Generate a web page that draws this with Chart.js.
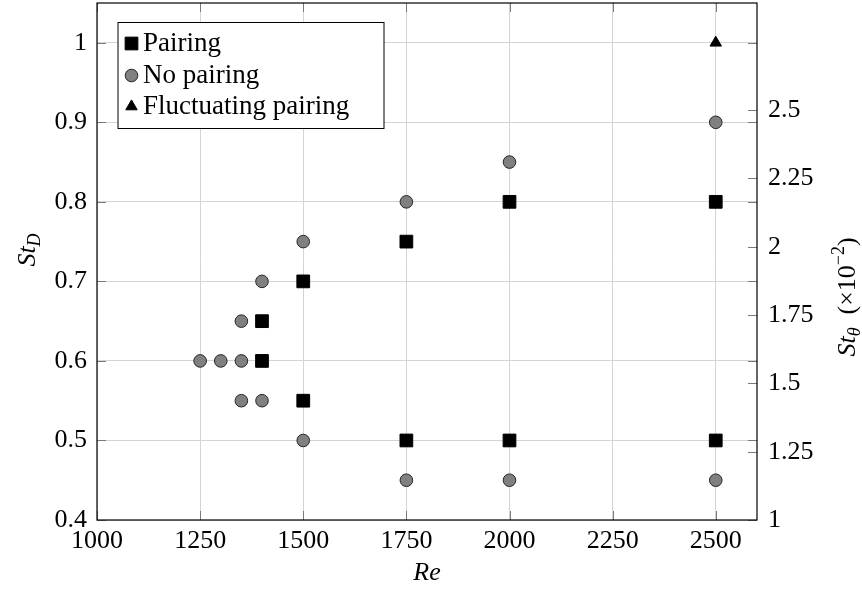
<!DOCTYPE html>
<html>
<head>
<meta charset="utf-8">
<script src="https://cdn.jsdelivr.net/npm/chart.js@4.4.0/dist/chart.umd.min.js"></script>
<style>
  html, body { margin: 0; padding: 0; background: #fff; }
  #wrap { width: 862px; height: 592px; }
  .warm { position: absolute; left: -9999px; top: 0; font-family: "Liberation Serif", serif; font-size: 26px; }
</style>
</head>
<body>
<span class="warm">Pairing 0123456789</span><span class="warm"><i>Re St θ</i></span>
<div id="wrap"><canvas id="chart"></canvas></div>
<script>
// St_D against Re, three regimes
const pairingRe = [1400, 1400, 1500, 1500, 1750, 1750, 2000, 2000, 2500, 2500];
const pairingSt = [0.65, 0.6, 0.7, 0.55, 0.75, 0.5, 0.8, 0.5, 0.8, 0.5];

const noPairingRe = [1250, 1300, 1350, 1350, 1350, 1400, 1400, 1500, 1500, 1750, 1750, 2000, 2000, 2500, 2500];
const noPairingSt = [0.6, 0.6, 0.6, 0.65, 0.55, 0.7, 0.55, 0.75, 0.5, 0.8, 0.45, 0.85, 0.45, 0.9, 0.45];

const fluctRe = [2500];
const fluctSt = [1.0];

const reTicks = [1000, 1250, 1500, 1750, 2000, 2250, 2500];
const stDTicks = [0.4, 0.5, 0.6, 0.7, 0.8, 0.9, 1];
const stThetaTicks = [1, 1.25, 1.5, 1.75, 2, 2.25, 2.5];

const FONT = '"Liberation Serif", "Times New Roman", Tinos, serif';
const SIZE = 26;
const SMALL = 18;

// force le chargement de la police avant le premier dessin
(function warmFont() {
    const c = document.createElement('canvas').getContext('2d');
    ['', 'italic '].forEach(st => {
        c.font = `${st}${SIZE}px ${FONT}`;
        c.measureText('Fluctuating pairing 0123456789');
    });
})();

function toPoints(xs, ys) {
    return xs.map((x, i) => ({ x: x, y: ys[i] }));
}

// texte avec indices / exposants
function drawRich(ctx, parts, cx, cy, rot) {
    ctx.save();
    ctx.translate(cx, cy);
    ctx.rotate(rot);
    let total = 0;
    parts.forEach(p => {
        ctx.font = p.font;
        p.w = ctx.measureText(p.t).width;
        total += p.w;
    });
    let x = -total / 2;
    ctx.textBaseline = 'alphabetic';
    ctx.fillStyle = '#000';
    parts.forEach(p => {
        ctx.font = p.font;
        ctx.fillText(p.t, x, p.dy || 0);
        x += p.w;
    });
    ctx.restore();
}

function noPad(s) {
    s.paddingTop = 0;
    s.paddingBottom = 0;
    s.paddingLeft = 0;
    s.paddingRight = 0;
}

const frameAndTicks = {
    id: 'frameAndTicks',
    beforeDatasetsDraw(chart) {
        const { ctx, chartArea: a, scales } = chart;
        const len = 9;
        ctx.save();
        ctx.strokeStyle = '#7a7a7a';
        ctx.lineWidth = 1;
        ctx.beginPath();
        reTicks.forEach(v => {
            const px = Math.round(scales.x.getPixelForValue(v)) + 0.5;
            ctx.moveTo(px, a.bottom); ctx.lineTo(px, a.bottom - len);
            ctx.moveTo(px, a.top); ctx.lineTo(px, a.top + len);
        });
        stDTicks.forEach(v => {
            const py = Math.round(scales.y.getPixelForValue(v)) + 0.5;
            ctx.moveTo(a.left, py); ctx.lineTo(a.left + len, py);
            ctx.moveTo(a.right, py); ctx.lineTo(a.right - len, py);
        });
        stThetaTicks.forEach(v => {
            const py = Math.round(scales.y2.getPixelForValue(v)) + 0.5;
            ctx.moveTo(a.right, py); ctx.lineTo(a.right - len, py);
        });
        ctx.stroke();

        ctx.strokeStyle = '#000';
        ctx.lineWidth = 1.2;
        ctx.strokeRect(a.left, a.top, a.right - a.left, a.bottom - a.top);
        ctx.restore();
    },
    afterDraw(chart) {
        const ctx = chart.ctx;
        const it = `italic ${SIZE}px ${FONT}`;
        const itSmall = `italic ${SMALL}px ${FONT}`;
        const rm = `${SIZE}px ${FONT}`;
        const rmSmall = `${SMALL}px ${FONT}`;

        drawRich(ctx, [{ t: 'Re', font: it }], 427, 580, 0);
        drawRich(ctx, [{ t: 'St', font: it }, { t: 'D', font: itSmall, dy: 5 }], 35, 250, -Math.PI / 2);
        drawRich(ctx, [
            { t: 'St', font: it },
            { t: 'θ', font: itSmall, dy: 5 },
            { t: '  (×10', font: rm },
            { t: '−2', font: rmSmall, dy: -11 },
            { t: ')', font: rm }
        ], 855, 297, -Math.PI / 2);

        // légende
        const box = { x: 117.5, y: 22, w: 266, h: 106 };
        ctx.save();
        ctx.fillStyle = '#fff';
        ctx.fillRect(box.x, box.y, box.w, box.h);
        ctx.strokeStyle = '#000';
        ctx.lineWidth = 1;
        ctx.strokeRect(box.x + 0.5, box.y + 0.5, box.w, box.h);
        const rows = [43.5, 75.5, 106.5];
        chart.data.datasets.forEach((ds, i) => {
            const y = rows[i];
            const style = {
                pointStyle: ds.pointStyle,
                radius: ds.pointRadius,
                borderWidth: ds.borderWidth,
                rotation: 0
            };
            ctx.fillStyle = ds.backgroundColor;
            ctx.strokeStyle = ds.borderColor;
            ctx.lineWidth = ds.borderWidth;
            Chart.helpers.drawPoint(ctx, style, 131.5, y);
            ctx.fillStyle = '#000';
            ctx.font = `27px ${FONT}`;
            ctx.textBaseline = 'alphabetic';
            ctx.fillText(ds.label, 143, y + 7);
        });
        ctx.restore();
    }
};

const ctx = document.getElementById('chart');

const chart = new Chart(ctx, {
    type: 'scatter',
    data: {
        datasets: [
            {
                label: 'Pairing',
                data: toPoints(pairingRe, pairingSt),
                pointStyle: 'rect',
                pointRadius: 9,
                pointHoverRadius: 9,
                backgroundColor: '#000000',
                borderColor: '#000000',
                borderWidth: 1
            },
            {
                label: 'No pairing',
                data: toPoints(noPairingRe, noPairingSt),
                pointStyle: 'circle',
                pointRadius: 6.3,
                pointHoverRadius: 6.3,
                backgroundColor: '#808080',
                borderColor: '#262626',
                borderWidth: 1
            },
            {
                label: 'Fluctuating pairing',
                data: toPoints(fluctRe, fluctSt),
                pointStyle: 'triangle',
                pointRadius: 6.6,
                pointHoverRadius: 6.6,
                backgroundColor: '#000000',
                borderColor: '#000000',
                borderWidth: 1
            }
        ]
    },
    options: {
        responsive: true,
        maintainAspectRatio: false,
        animation: false,
        layout: { autoPadding: false, padding: { top: 3, left: 0, right: 0, bottom: 0 } },
        plugins: {
            legend: { display: false },
            tooltip: { enabled: false }
        },
        scales: {
            x: {
                type: 'linear',
                position: 'bottom',
                min: 1000,
                max: 2600,
                afterBuildTicks: s => { s.ticks = reTicks.map(v => ({ value: v })); },
                afterFit: s => { s.height = 72; noPad(s); },
                border: { display: false },
                grid: { color: '#d4d4d4', lineWidth: 1, drawTicks: false },
                ticks: {
                    color: '#000',
                    padding: 6,
                    maxRotation: 0,
                    font: { family: FONT, size: SIZE },
                    callback: v => String(v)
                }
            },
            y: {
                type: 'linear',
                position: 'left',
                min: 0.4,
                max: 1.05,
                afterBuildTicks: s => { s.ticks = stDTicks.map(v => ({ value: v })); },
                afterFit: s => { s.width = 97; noPad(s); },
                border: { display: false },
                grid: { color: '#d4d4d4', lineWidth: 1, drawTicks: false },
                ticks: {
                    color: '#000',
                    padding: 10,
                    font: { family: FONT, size: SIZE },
                    callback: v => String(v)
                }
            },
            y2: {
                type: 'linear',
                position: 'right',
                min: 1,
                max: 2.892,
                afterBuildTicks: s => { s.ticks = stThetaTicks.map(v => ({ value: v })); },
                afterFit: s => { s.width = 105; noPad(s); },
                border: { display: false },
                grid: { display: false, drawTicks: false },
                ticks: {
                    color: '#000',
                    padding: 11,
                    font: { family: FONT, size: SIZE },
                    callback: v => String(v)
                }
            }
        }
    },
    plugins: [frameAndTicks]
});

// redessiner une fois la police prête
if (document.fonts && document.fonts.ready) {
    document.fonts.ready.then(() => chart.update());
}
</script>
</body>
</html>
